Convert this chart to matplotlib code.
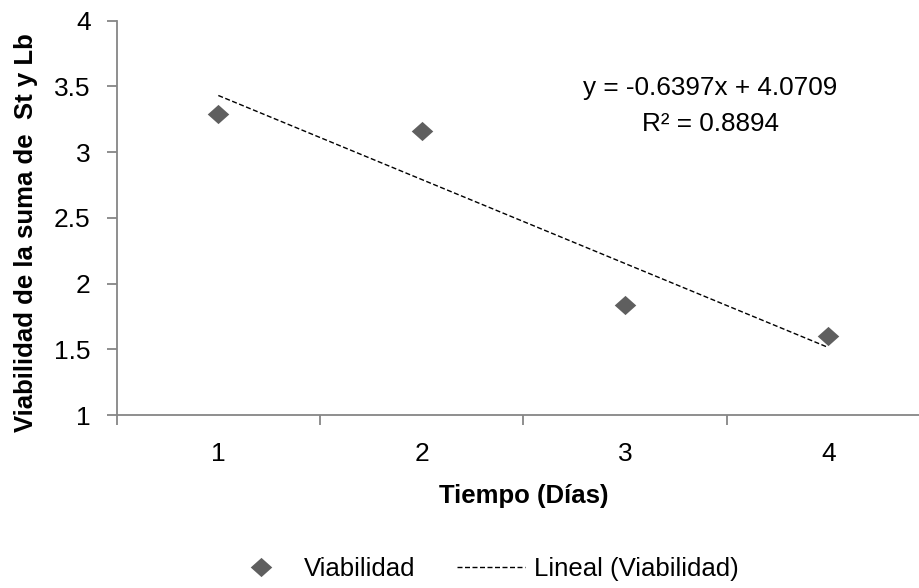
import numpy as np
import matplotlib
matplotlib.use("Agg")
import matplotlib.pyplot as plt
from matplotlib.ticker import FixedLocator, NullFormatter

plt.rcParams["font.family"] = ["Liberation Sans", "DejaVu Sans"]

# data
dias = [1, 2, 3, 4]
viabilidad = [3.29, 3.16, 1.84, 1.60]
dia_labels = ["1", "2", "3", "4"]
y_ticks = [1, 1.5, 2, 2.5, 3, 3.5, 4]
y_labels = ["1", "1.5", "2", "2.5", "3", "3.5", "4"]

# slightly wide diamond like the Excel marker
diamond = [(0, 1), (1.12, 0), (0, -1), (-1.12, 0), (0, 1)]
gris = "#5f5f5f"
eje = "#868686"

fig = plt.figure(figsize=(9.2, 5.88), dpi=100)
ax = fig.add_axes([0.1268, 0.2942, 0.884, 0.6706])

ax.plot(dias, viabilidad, linestyle="none", marker=diamond, markersize=15.5,
        color=gris, markeredgewidth=0, label="Viabilidad")

# linear trend line (Excel style)
m, b = np.polyfit(dias, viabilidad, 1)
xs = np.array([dias[0], dias[-1]])
ax.plot(xs, m * xs + b, linestyle=(0, (3.6, 1.8)), color="black", linewidth=1.0,
        label="Lineal (Viabilidad)")
ax.text(3.42, 3.435, "y = -0.6397x + 4.0709", ha="center", va="baseline", fontsize=18.8)
ax.text(3.42, 3.161, "R² = 0.8894", ha="center", va="baseline", fontsize=18.8)

ax.set_xlim(0.5, 4.5)
ax.set_ylim(1, 4)
ax.set_yticks(y_ticks)
ax.set_yticklabels(y_labels)
ax.xaxis.set_major_locator(FixedLocator([0.5, 1.5, 2.5, 3.5, 4.5]))
ax.xaxis.set_major_formatter(NullFormatter())
ax.xaxis.set_minor_locator(FixedLocator(dias))
ax.set_xticklabels(dia_labels, minor=True)
ax.tick_params(axis="x", which="minor", length=0, pad=19.5, labelsize=19)
ax.tick_params(axis="x", which="major", length=7.2, width=1.3, color=eje)
ax.tick_params(axis="y", length=7.2, width=1.3, color=eje, pad=11.5, labelsize=19)

for s in ["top", "right"]:
    ax.spines[s].set_visible(False)
for s in ["left", "bottom"]:
    ax.spines[s].set_color(eje)
    ax.spines[s].set_linewidth(1.3)

ax.set_xlabel("Tiempo (Días)", fontsize=18.5, fontweight="bold")
ax.xaxis.set_label_coords(0.5, -0.175)
ax.set_ylabel("Viabilidad de la suma de  St y Lb", fontsize=18.5, fontweight="bold")
ax.yaxis.set_label_coords(-0.0968, 0.463)

fig.legend(loc="center", bbox_to_anchor=(483 / 920, 1 - 569 / 588), ncol=2, frameon=False,
           fontsize=18.5, handlelength=2.65, columnspacing=1.63, handletextpad=0.33,
           borderpad=0, borderaxespad=0)

fig.savefig("out.png", dpi=100)
